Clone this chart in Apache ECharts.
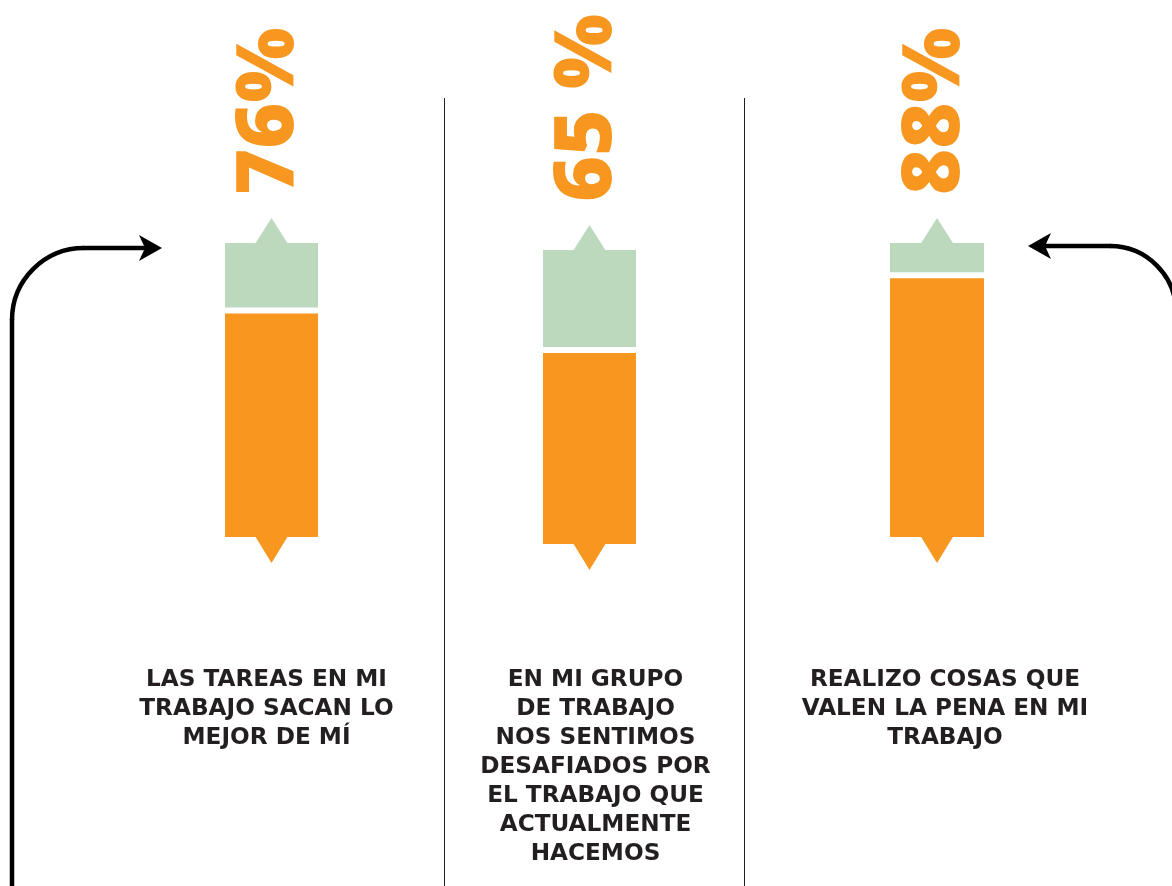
<!DOCTYPE html>
<html>
<head>
<meta charset="utf-8">
<script src="https://cdn.jsdelivr.net/npm/echarts@6/dist/echarts.min.js"></script>
<style>
html,body{margin:0;padding:0;background:#fff;}
#chart{width:1172px;height:886px;}
</style>
</head>
<body>
<div id="chart"></div>
<script>
// ---- data ----
const categories = [
  'LAS TAREAS EN MI\nTRABAJO SACAN LO\nMEJOR DE MÍ',
  'EN MI GRUPO\nDE TRABAJO\nNOS SENTIMOS\nDESAFIADOS POR\nEL TRABAJO QUE\nACTUALMENTE\nHACEMOS',
  'REALIZO COSAS QUE\nVALEN LA PENA EN MI\nTRABAJO'
];
const values = [76, 65, 88];
const valueLabels = ['76%', '65 %', '88%'];
const scaleMax = [100, 100, 100];

// ---- layout / style ----
const ORANGE = '#F7971F';
const GREEN = '#BCD9BE';
const TEXT = '#231F20';
const grids = [
  { left: 225, top: 243, width: 93, height: 294, labelMargin: 128, labelShift: -5 },
  { left: 543, top: 250, width: 93, height: 294, labelMargin: 128, labelShift: 6 },
  { left: 890, top: 243, width: 94, height: 294, labelMargin: 128, labelShift: 8 }
];

function makeRenderer(i) {
  return function (params, api) {
    const v = api.value(1);
    const bottom = api.coord([0, 0]);
    const split = api.coord([0, v]);
    const top = api.coord([0, scaleMax[i]]);
    const w = api.size([1, 0])[0];
    const cx = bottom[0];
    const x0 = cx - w / 2;
    const gap = 6;
    const triHalf = 16.5, triH = 25;
    return {
      type: 'group',
      children: [
        { type: 'rect', shape: { x: x0, y: split[1], width: w, height: bottom[1] - split[1] }, style: { fill: ORANGE } },
        { type: 'polygon', shape: { points: [[cx - triHalf, bottom[1] - 1], [cx + triHalf, bottom[1] - 1], [cx, bottom[1] + triH + 1]] }, style: { fill: ORANGE } },
        { type: 'rect', shape: { x: x0, y: top[1], width: w, height: split[1] - gap - top[1] }, style: { fill: GREEN } },
        { type: 'polygon', shape: { points: [[cx - triHalf, top[1] + 1], [cx + triHalf, top[1] + 1], [cx, top[1] - triH]] }, style: { fill: GREEN } },
        {
          type: 'text', x: cx - 1, y: top[1] - triH - 23, rotation: Math.PI / 2,
          style: {
            text: valueLabels[i], fill: ORANGE,
            font: '800 79px "Open Sans"', align: 'left', verticalAlign: 'middle'
          }
        }
      ]
    };
  };
}

const chart = echarts.init(document.getElementById('chart'), null, { renderer: 'canvas' });
const arrowStroke = { fill: null, stroke: '#000', lineWidth: 4.5 };
const option = {
  backgroundColor: '#ffffff',
  animation: false,
  grid: grids.map(g => ({ left: g.left, top: g.top, width: g.width, height: g.height })),
  xAxis: grids.map((g, i) => ({
    type: 'category', gridIndex: i, data: [categories[i]],
    axisLine: { show: false }, axisTick: { show: false }, splitLine: { show: false },
    axisLabel: {
      interval: 0, margin: g.labelMargin - (g.top - 243), color: TEXT,
      fontFamily: 'DejaVu Sans', fontWeight: 'bold', fontSize: 23.2, lineHeight: 29, align: 'center',
      padding: g.labelShift >= 0 ? [0, 0, 0, 2 * g.labelShift] : [0, -2 * g.labelShift, 0, 0]
    }
  })),
  yAxis: grids.map((g, i) => ({ type: 'value', gridIndex: i, min: 0, max: scaleMax[i], show: false })),
  series: values.map((v, i) => ({
    type: 'custom', xAxisIndex: i, yAxisIndex: i, clip: false,
    renderItem: makeRenderer(i),
    data: [[0, v]]
  })),
  graphic: [
    { type: 'line', shape: { x1: 444.5, y1: 98, x2: 444.5, y2: 886 }, style: { stroke: TEXT, lineWidth: 1 } },
    { type: 'line', shape: { x1: 744.5, y1: 98, x2: 744.5, y2: 886 }, style: { stroke: TEXT, lineWidth: 1 } },
    // left arrow
    { type: 'line', shape: { x1: 12, y1: 890, x2: 12, y2: 319 }, style: arrowStroke },
    { type: 'bezierCurve', shape: { x1: 12, y1: 320, cpx1: 12, cpy1: 280.2, cpx2: 44.2, cpy2: 248, x2: 84, y2: 248 }, style: arrowStroke },
    { type: 'line', shape: { x1: 83, y1: 248, x2: 146, y2: 248 }, style: arrowStroke },
    { type: 'polygon', shape: { points: [[162, 248], [139, 235], [145, 248], [139, 261]] }, style: { fill: '#000' } },
    // right arrow
    { type: 'line', shape: { x1: 1044, y1: 246, x2: 1111, y2: 246 }, style: arrowStroke },
    { type: 'bezierCurve', shape: { x1: 1110, y1: 246, cpx1: 1146.4, cpy1: 246, cpx2: 1176, cpy2: 275.6, x2: 1176, y2: 312 }, style: arrowStroke },
    { type: 'line', shape: { x1: 1176, y1: 311, x2: 1176, y2: 890 }, style: arrowStroke },
    { type: 'polygon', shape: { points: [[1028, 246], [1051, 233], [1045, 246], [1051, 259]] }, style: { fill: '#000' } }
  ]
};
chart.setOption(option);
</script>
</body>
</html>
